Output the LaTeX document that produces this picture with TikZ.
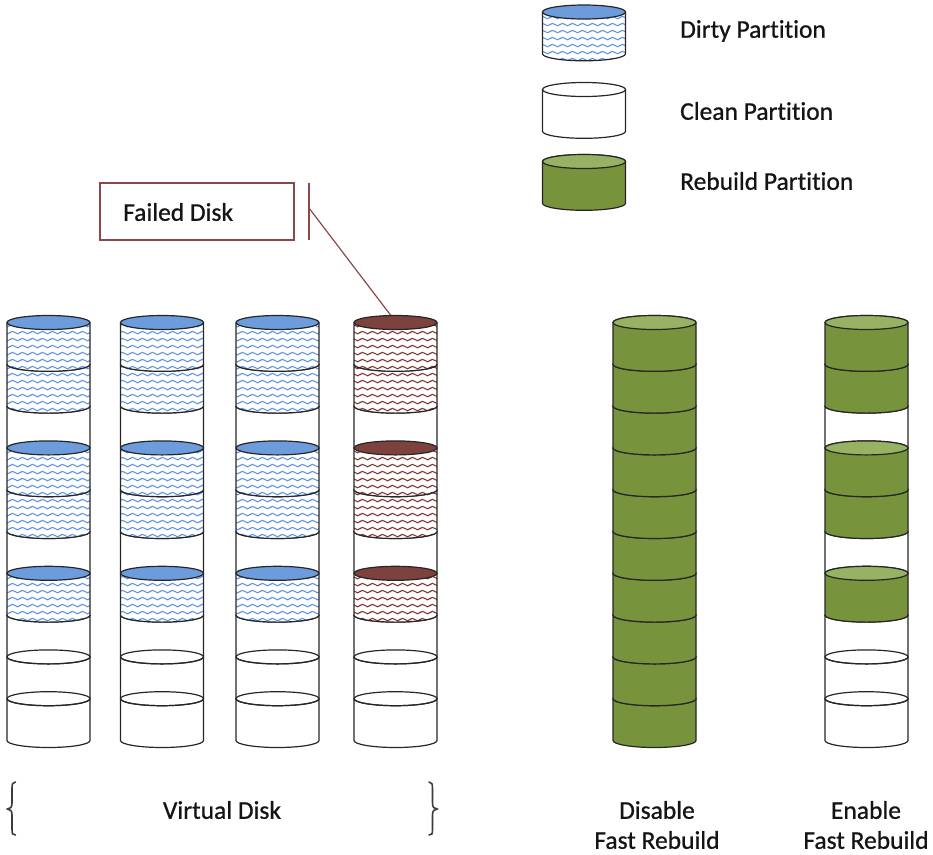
\documentclass[tikz,border=0pt]{standalone}
\usepackage{fontspec}
\setmainfont{Carlito}[Ligatures=NoCommon, RawFeature={embolden=0.8}]
\usetikzlibrary{patterns.meta}

\pgfdeclarepattern{
  name=wavy,
  type=uncolored,
  bottom left={\pgfpoint{-0.6pt}{0pt}},
  top right={\pgfpoint{10.6pt}{7pt}},
  tile size={\pgfpoint{10pt}{7pt}},
  code={
    \pgfsetlinewidth{1.1pt}
    \pgfpathmoveto{\pgfpoint{-0.5pt}{3.0pt}}
    \pgfpathcurveto{\pgfpoint{1.3pt}{5.0pt}}{\pgfpoint{3.4pt}{5.2pt}}{\pgfpoint{5pt}{3.5pt}}
    \pgfpathcurveto{\pgfpoint{6.6pt}{1.8pt}}{\pgfpoint{8.4pt}{1.8pt}}{\pgfpoint{10pt}{3.5pt}}
    \pgfpathlineto{\pgfpoint{10.5pt}{4.0pt}}
    \pgfusepath{stroke}
  }
}

\definecolor{dirtytop}{RGB}{108,156,220}
\definecolor{dirtywave}{RGB}{100,150,225}
\definecolor{failtop}{RGB}{125,66,62}
\definecolor{failwave}{RGB}{128,58,54}
\definecolor{rebody}{RGB}{119,147,60}
\definecolor{retop}{RGB}{150,178,98}
\definecolor{callout}{RGB}{140,72,72}
\definecolor{txt}{RGB}{20,20,20}
\definecolor{bracecol}{RGB}{60,60,60}

\tikzset{
  cylline/.style={draw=black!85, line width=1.2pt},
  calloutline/.style={draw=callout, line width=1.2pt},
  lbl/.style={text=txt, font=\fontsize{25.5}{30}\selectfont, inner sep=0pt},
  bracestyle/.style={draw=bracecol, line width=1.6pt, line cap=round}
}

\newcommand\RX{41.5}
\newcommand\RY{7}
\newcommand\HH{41.8}

\newcommand\silh[2]{(#1-\RX,#2) -- (#1-\RX,\ybot) arc[start angle=180,end angle=0,x radius=\RX,y radius=\RY] -- (#1+\RX,#2) arc[start angle=0,end angle=-180,x radius=\RX,y radius=\RY] -- cycle}

\newcommand\cleancyl[2]{%
  \pgfmathsetmacro\ybot{#2+\HH}%
  \draw[cylline] (#1-\RX,#2) -- (#1-\RX,\ybot) arc[start angle=180,end angle=0,x radius=\RX,y radius=\RY] -- (#1+\RX,#2);
  \draw[cylline] (#1,#2) ellipse[x radius=\RX,y radius=\RY];}

\newcommand\dirtycyl[4]{%
  \pgfmathsetmacro\ybot{#2+\HH}%
  \fill[white] \silh{#1}{#2};
  \fill[pattern=wavy, pattern color=#4] \silh{#1}{#2};
  \draw[cylline] (#1-\RX,#2) -- (#1-\RX,\ybot) arc[start angle=180,end angle=0,x radius=\RX,y radius=\RY] -- (#1+\RX,#2);
  \filldraw[cylline, fill=#3] (#1,#2) ellipse[x radius=\RX,y radius=\RY];}

\newcommand\greencyl[2]{%
  \pgfmathsetmacro\ybot{#2+\HH}%
  \filldraw[cylline, fill=rebody] \silh{#1}{#2};
  \filldraw[cylline, fill=retop] (#1,#2) ellipse[x radius=\RX,y radius=\RY];}

\begin{document}
\begin{tikzpicture}[x=1pt, y=-1pt]
\useasboundingbox (0,0) rectangle (933,854);

% legend
\dirtycyl{584}{12}{dirtytop}{dirtywave}
\cleancyl{584}{89.5}
\greencyl{584}{161.5}
\node[lbl, anchor=west] (lgd) at (680,31) {Dirty Partition};
\node[lbl, anchor=west] (lgc) at (680,111) {Clean Partition};
\node[lbl, anchor=west] (lgr) at (680,181) {Rebuild Partition};

% callout
\node[draw=callout, line width=1.2pt, minimum width=194pt, minimum height=57pt, inner sep=0pt] (fd) at (197,211.5) {};
\node[lbl, anchor=west] (fdt) at (123,212) {Failed Disk};
\coordinate (barT) at (309,183);
\coordinate (barB) at (309,240);
\coordinate (barM) at (309,208);
\coordinate (tip) at (392,317);
\draw[calloutline] (barT) -- (barB);
\draw[calloutline] (barM) -- (tip);

% virtual disk columns
\foreach \cx/\tc/\wc in {48.5/dirtytop/dirtywave, 162/dirtytop/dirtywave, 277.5/dirtytop/dirtywave, 395.5/failtop/failwave}{
  \foreach \k in {3,6,8,9,10}{\pgfmathsetmacro\yt{322.5+(\k-1)*\HH}\cleancyl{\cx}{\yt}}
  \foreach \k in {7,5,4,2,1}{\pgfmathsetmacro\yt{322.5+(\k-1)*\HH}\dirtycyl{\cx}{\yt}{\tc}{\wc}}
}

% disable fast rebuild
\foreach \k in {10,9,...,1}{\pgfmathsetmacro\yt{322.5+(\k-1)*\HH}\greencyl{654.5}{\yt}}

% enable fast rebuild
\foreach \k in {3,6,8,9,10}{\pgfmathsetmacro\yt{322.5+(\k-1)*\HH}\cleancyl{866.5}{\yt}}
\foreach \k in {7,5,4,2,1}{\pgfmathsetmacro\yt{322.5+(\k-1)*\HH}\greencyl{866.5}{\yt}}

% braces
\draw[bracestyle] (15.5,782) .. controls (12.5,782) and (12,784) .. (12,789) -- (12,803)
   .. controls (12,807) and (10.5,809) .. (7.5,809) .. controls (10.5,809) and (12,811) .. (12,815)
   -- (12,829) .. controls (12,834) and (12.5,835) .. (15.5,835);
\draw[bracestyle] (429,782) .. controls (432,782) and (432.5,784) .. (432.5,789) -- (432.5,803)
   .. controls (432.5,807) and (434,809) .. (437,809) .. controls (434,809) and (432.5,811) .. (432.5,815)
   -- (432.5,829) .. controls (432.5,834) and (432,835) .. (429,835);

% labels
\node[lbl] (vd) at (222,810) {Virtual Disk};
\node[lbl, align=center] (dfr) at (657,825) {Disable\\Fast Rebuild};
\node[lbl, align=center] (efr) at (866,825) {Enable\\Fast Rebuild};
\end{tikzpicture}
\end{document}
